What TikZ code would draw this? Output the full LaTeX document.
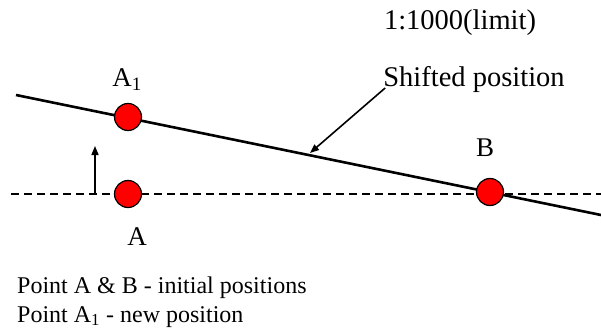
\documentclass[tikz,border=0pt]{standalone}
\usepackage{fontspec}
\setmainfont{Liberation Serif}
\usetikzlibrary{arrows.meta}
\begin{document}
\begin{tikzpicture}[x=1pt,y=-1pt,
  dot/.style={circle,draw=black,fill=red,line width=1.2pt,minimum size=27pt,inner sep=0pt},
  big/.style={font=\fontsize{28.5}{30}\selectfont,inner sep=0pt,anchor=base},
  lbl/.style={font=\fontsize{27}{30}\selectfont,inner sep=0pt,anchor=base},
  legend/.style={font=\fontsize{24}{28}\selectfont,inner sep=0pt,anchor=base west},
  ptr/.style={line width=1.6pt,-{Triangle[length=9pt,width=7pt]}}]
\useasboundingbox (0,0) rectangle (601,331);
% lines
\coordinate (L1) at (16,95);
\coordinate (L2) at (601,215);
\coordinate (D1) at (11,194);
\coordinate (D2) at (601,194);
\draw[line width=1.4pt,dash pattern=on 8pt off 5pt] (D1) -- (D2);
\draw[line width=2.6pt] (L1) -- (L2);
% dots
\node[dot] (A1) at (128,117) {};
\node[dot] (A) at (128,194) {};
\node[dot] (B) at (490,192) {};
% vertical arrow
\coordinate (V1) at (95,194);
\coordinate (V2) at (95,146);
\draw[ptr] (V1) -- (V2);
% labels
\node[lbl] (tA1) at (127,87) {A\textsubscript{1}};
\node[lbl] (tA) at (137,245) {A};
\node[lbl] (tB) at (485,157) {B};
\node[big] (scale) at (460,30) {1:1000(limit)};
\node[big] (shift) at (474,87) {Shifted position};
\coordinate (P) at (310,153);
\draw[ptr] (shift.base west) ++(2,1) coordinate (S) -- (P);
% legend
\node[legend] (leg1) at (17,293) {Point A \& B - initial positions};
\node[legend] (leg2) at (17,322) {Point A\textsubscript{1} - new position};
\end{tikzpicture}
\end{document}
